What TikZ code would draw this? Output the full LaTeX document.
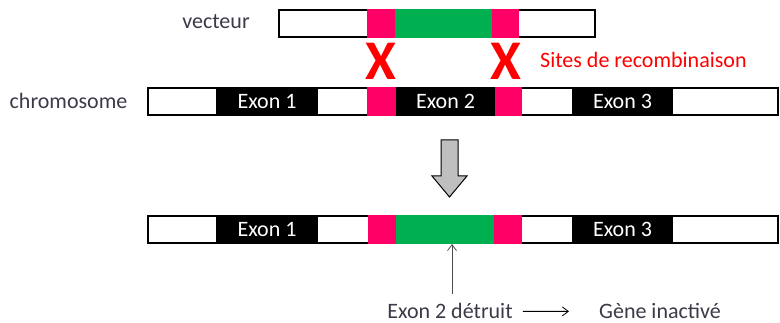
\documentclass[tikz,border=0pt]{standalone}
\usepackage{fontspec}
\setmainfont{Carlito}
\usetikzlibrary{arrows.meta}
\definecolor{txt}{RGB}{58,58,72}
\definecolor{pinkseg}{RGB}{255,0,102}
\definecolor{greenseg}{RGB}{0,176,80}
\definecolor{redmark}{RGB}{255,0,0}
\definecolor{arrowgray}{RGB}{191,191,191}
\begin{document}
\begin{tikzpicture}[x=1pt,y=-1pt,
  bar/.style={draw=black, line width=1.8pt, fill=white, inner sep=0pt, outer sep=0pt,
              anchor=north west, minimum width=#1, minimum height=27pt},
  seg/.style={inner sep=0pt, outer sep=0pt, anchor=north west, minimum width=#1},
  exon/.style={seg=#1, fill=black, minimum height=27pt, text=white,
               font=\fontsize{22}{26}\selectfont},
  site/.style={seg=#1, fill=pinkseg, minimum height=29pt},
  insert/.style={seg=#1, fill=greenseg, minimum height=29pt},
  label/.style={text=txt, font=\fontsize{22}{26}\selectfont, inner sep=0pt},
  xmark/.style={text=redmark, font=\fontsize{56}{56}\selectfont\bfseries, inner sep=0pt},
  thin arrow/.style={draw=black!70, line width=0.8pt, -{Straight Barb[length=6pt,width=9pt]}},
]
\useasboundingbox (0,0) rectangle (780,323);

% targeting vector
\node[bar=316pt] (vec) at (279,10) {};
\node[site=28pt] (v-s1) at (367,9) {};
\node[insert=97pt] (v-ins) at (395,9) {};
\node[site=27pt] (v-s2) at (492,9) {};
\node[label, anchor=center] (vec-lbl) at (216,22) {vecteur};

% recombination sites
\node[xmark] (x1) at (381,61.5) {X};
\node[xmark] (x2) at (506,61.5) {X};
\node[label, text=redmark, anchor=west] (sites) at (540,60) {Sites de recombinaison};

% wild-type chromosome
\node[bar=630pt] (chr) at (148,88) {};
\node[exon=102pt] (c-e1) at (216,88) {Exon 1};
\node[site=29pt] (c-s1) at (367,87) {};
\node[exon=99pt] (c-e2) at (396,88) {Exon 2};
\node[site=27pt] (c-s2) at (495,87) {};
\node[exon=101pt] (c-e3) at (572,88) {Exon 3};
\node[label, anchor=center] (chr-lbl) at (68.5,101) {chromosome};

% recombination step
\draw[fill=arrowgray, line width=1pt] (441,140) -- (458,140) -- (458,176) -- (467,176)
  -- (449.5,197) -- (432,176) -- (441,176) -- cycle;

% recombined chromosome
\node[bar=630pt] (rec) at (148,216) {};
\node[exon=102pt] (r-e1) at (216,216) {Exon 1};
\node[site=28pt] (r-s1) at (368,215) {};
\node[insert=98pt] (r-ins) at (396,215) {};
\node[site=28pt] (r-s2) at (494,215) {};
\node[exon=101pt] (r-e3) at (572,216) {Exon 3};

% outcome
\node[label, text depth=0pt, anchor=base] (detruit) at (450,319) {Exon 2 détruit};
\node[label, text depth=0pt, anchor=base] (gene) at (660,319) {Gène inactivé};
\coordinate (hit) at (452,244);
\draw[thin arrow] ([yshift=10pt]detruit.north -| hit) -- (hit);
\draw[thin arrow, draw=black] ([xshift=10pt]detruit.east) -- ([xshift=-30pt]gene.west);
\end{tikzpicture}
\end{document}
